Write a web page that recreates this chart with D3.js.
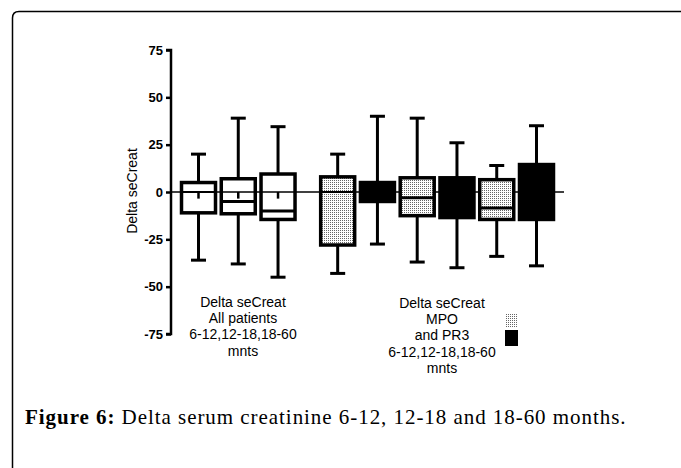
<!DOCTYPE html>
<html><head><meta charset="utf-8">
<script src="https://cdn.jsdelivr.net/npm/d3@7"></script>
<style>body{margin:0;background:#fff}svg{display:block}</style>
</head><body>
<svg id="c" width="681" height="468"></svg>
<script>
// Data
const categories = ["All 6-12","All 12-18","All 18-60","MPO 6-12","PR3 6-12","MPO 12-18","PR3 12-18","MPO 18-60","PR3 18-60"];
const groups = [0,0,0,1,1,1,1,1,1];
const fills = ["white","white","white","dots","black","dots","black","dots","black"];
const whiskerMin = [-36,-38,-45,-43,-27.5,-37,-40,-34,-39];
const q1 = [-11,-11.5,-14.5,-28,-5,-12.5,-13.5,-14.5,-14.5];
const median = [0,-5,-10,0,0,-3,0,-8.5,0];
const q3 = [5,7,9.5,8,5,7.5,7.5,6.5,14.5];
const whiskerMax = [20,39,34.5,20,40,39,26,14,35];
const meanMark = [-3.5,-3.5,-3.5,null,null,null,null,null,null];
const yTicks = [75,50,25,0,-25,-50,-75];
const yLabel = "Delta seCreat";
const groupLabels = [["Delta seCreat","All patients","6-12,12-18,18-60","mnts"],["Delta seCreat","MPO","and PR3","6-12,12-18,18-60","mnts"]];
const caption = ["Figure 6:"," Delta serum creatinine 6-12, 12-18 and 18-60 months."];

const svg = d3.select("#c");
const defs = svg.append("defs");
const pat = defs.append("pattern").attr("id","dots").attr("patternUnits","userSpaceOnUse").attr("width",2).attr("height",2);
pat.append("rect").attr("width",2).attr("height",2).attr("fill","#fff");
pat.append("rect").attr("width",1).attr("height",1).attr("fill","#666");

// frame
svg.append("path").attr("d","M12.5,470 L12.5,18 Q12.5,11.5 19,11.5 L690,11.5").attr("fill","none").attr("stroke","#000").attr("stroke-width",1.5);

const y = d3.scaleLinear().domain([-75,75]).range([334,50]);
const pos = categories.map((c,i)=> i+1 + (groups[i]===1?0.5:0));
const x = d3.scaleLinear().domain([1,9.5]).range([198.5,536.5]);
const bw = 34, cap = 15;

// zero line
svg.append("line").attr("x1",171).attr("x2",564).attr("y1",y(0)).attr("y2",y(0)).attr("stroke","#000").attr("stroke-width",1.6);

// axis
const ax = svg.append("g").attr("transform","translate(171,0)")
  .call(d3.axisLeft(y).tickValues(yTicks).tickFormat(d=>String(d)).tickSize(5).tickPadding(3));
ax.select(".domain").attr("stroke-width",2.5).attr("d",`M-5,${y(75)}H0V${y(-75)}H-5`);
ax.selectAll(".tick line").attr("stroke-width",2.5);
ax.selectAll(".tick text").attr("font-family","Liberation Sans, Arial, sans-serif").attr("font-weight","bold").attr("font-size",13).attr("fill","#000");

svg.append("text").attr("transform",`translate(137,191) rotate(-90)`).attr("text-anchor","middle")
  .attr("font-family","Liberation Sans, Arial, sans-serif").attr("font-size",14).text(yLabel);

const g = svg.append("g").selectAll("g").data(categories).join("g");
g.each(function(c,i){
  const s = d3.select(this), cx = x(pos[i]);
  // whiskers
  s.append("line").attr("x1",cx).attr("x2",cx).attr("y1",y(whiskerMax[i])).attr("y2",y(q3[i])).attr("stroke","#000").attr("stroke-width",3);
  s.append("line").attr("x1",cx).attr("x2",cx).attr("y1",y(q1[i])).attr("y2",y(whiskerMin[i])).attr("stroke","#000").attr("stroke-width",3);
  s.append("line").attr("x1",cx-cap/2).attr("x2",cx+cap/2).attr("y1",y(whiskerMax[i])).attr("y2",y(whiskerMax[i])).attr("stroke","#000").attr("stroke-width",3);
  s.append("line").attr("x1",cx-cap/2).attr("x2",cx+cap/2).attr("y1",y(whiskerMin[i])).attr("y2",y(whiskerMin[i])).attr("stroke","#000").attr("stroke-width",3);
  // box
  const f = fills[i]==="dots" ? "url(#dots)" : fills[i]==="white" ? "none" : fills[i];
  s.append("rect").attr("x",cx-bw/2).attr("y",y(q3[i])).attr("width",bw).attr("height",y(q1[i])-y(q3[i]))
    .attr("fill",f).attr("stroke","#000").attr("stroke-width",3.5);
  if (fills[i]!=="black"){
    s.append("line").attr("x1",cx-bw/2).attr("x2",cx+bw/2).attr("y1",y(median[i])).attr("y2",y(median[i])).attr("stroke","#000").attr("stroke-width",median[i]===0?1.8:3);
  }
  if (meanMark[i]!==null){
    s.append("line").attr("x1",cx).attr("x2",cx).attr("y1",y(0)).attr("y2",y(meanMark[i])).attr("stroke","#000").attr("stroke-width",2.5);
  }
});

// group labels
const gl = [{cx:243,y0:307,lines:groupLabels[0]},{cx:442,y0:308,lines:groupLabels[1]}];
gl.forEach(d=>{
  const t = svg.append("text").attr("text-anchor","middle").attr("font-family","Liberation Sans, Arial, sans-serif").attr("font-size",14);
  d.lines.forEach((l,k)=> t.append("tspan").attr("x",d.cx).attr("y",d.y0+k*16.2).text(l));
});
// legend swatches
svg.append("rect").attr("x",505).attr("y",313).attr("width",13).attr("height",15).attr("fill","url(#dots)");
svg.append("rect").attr("x",505).attr("y",330).attr("width",13).attr("height",16).attr("fill","#000");

// caption
const ct = svg.append("text").attr("x",25).attr("y",424).attr("font-family","Liberation Serif, Times New Roman, serif").attr("font-size",21).attr("letter-spacing",0.95);
ct.append("tspan").attr("font-weight","bold").text(caption[0]);
ct.append("tspan").text(caption[1]);
</script>
</body></html>
